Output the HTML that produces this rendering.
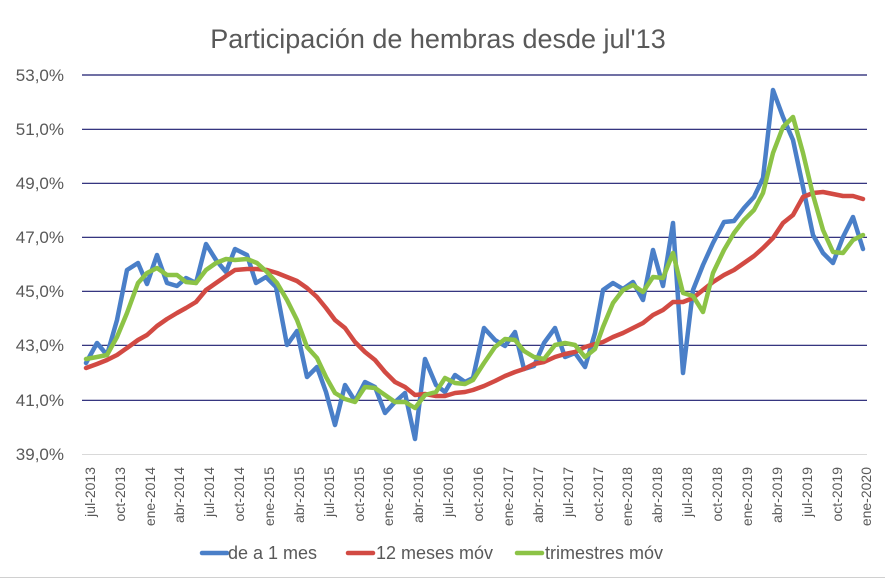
<!DOCTYPE html>
<html><head><meta charset="utf-8"><style>
body{margin:0;background:#fff;}
svg{display:block;font-family:"Liberation Sans",sans-serif;}
</style></head><body>
<svg width="885" height="584" viewBox="0 0 885 584">
<rect width="885" height="584" fill="#fff"/>
<line x1="0" y1="577.5" x2="885" y2="577.5" stroke="#d0d0d0" stroke-width="1"/>
<text x="438" y="48" text-anchor="middle" font-size="27" fill="#595959">Participación de hembras desde jul'13</text>
<g stroke="#1a1a6e" stroke-width="1.2">
<line x1="82" y1="75" x2="867" y2="75"/>
<line x1="82" y1="129.3" x2="867" y2="129.3"/>
<line x1="82" y1="183.3" x2="867" y2="183.3"/>
<line x1="82" y1="237.3" x2="867" y2="237.3"/>
<line x1="82" y1="291.3" x2="867" y2="291.3"/>
<line x1="82" y1="345.3" x2="867" y2="345.3"/>
<line x1="82" y1="400.3" x2="867" y2="400.3"/>
</g>
<line x1="82" y1="454.5" x2="867" y2="454.5" stroke="#d9d9d9" stroke-width="1"/>
<g font-size="17" fill="#595959" text-anchor="end">
<text x="64" y="81">53,0%</text>
<text x="64" y="135">51,0%</text>
<text x="64" y="189">49,0%</text>
<text x="64" y="243">47,0%</text>
<text x="64" y="297">45,0%</text>
<text x="64" y="351">43,0%</text>
<text x="64" y="406">41,0%</text>
<text x="64" y="460">39,0%</text>
</g>
<g font-size="14" fill="#595959" text-anchor="end">
<text transform="translate(95,467) rotate(-90)">jul-2013</text>
<text transform="translate(125,467) rotate(-90)">oct-2013</text>
<text transform="translate(155,467) rotate(-90)">ene-2014</text>
<text transform="translate(184,467) rotate(-90)">abr-2014</text>
<text transform="translate(214,467) rotate(-90)">jul-2014</text>
<text transform="translate(244,467) rotate(-90)">oct-2014</text>
<text transform="translate(274,467) rotate(-90)">ene-2015</text>
<text transform="translate(304,467) rotate(-90)">abr-2015</text>
<text transform="translate(334,467) rotate(-90)">jul-2015</text>
<text transform="translate(364,467) rotate(-90)">oct-2015</text>
<text transform="translate(393,467) rotate(-90)">ene-2016</text>
<text transform="translate(423,467) rotate(-90)">abr-2016</text>
<text transform="translate(453,467) rotate(-90)">jul-2016</text>
<text transform="translate(483,467) rotate(-90)">oct-2016</text>
<text transform="translate(513,467) rotate(-90)">ene-2017</text>
<text transform="translate(543,467) rotate(-90)">abr-2017</text>
<text transform="translate(573,467) rotate(-90)">jul-2017</text>
<text transform="translate(603,467) rotate(-90)">oct-2017</text>
<text transform="translate(632,467) rotate(-90)">ene-2018</text>
<text transform="translate(662,467) rotate(-90)">abr-2018</text>
<text transform="translate(692,467) rotate(-90)">jul-2018</text>
<text transform="translate(722,467) rotate(-90)">oct-2018</text>
<text transform="translate(752,467) rotate(-90)">ene-2019</text>
<text transform="translate(782,467) rotate(-90)">abr-2019</text>
<text transform="translate(812,467) rotate(-90)">jul-2019</text>
<text transform="translate(842,467) rotate(-90)">oct-2019</text>
<text transform="translate(871,467) rotate(-90)">ene-2020</text>
</g>
<g fill="none" stroke-width="4.5" stroke-linejoin="round" stroke-linecap="round">
<polyline stroke="#4a7fc8" points="86,363 97,343 107,355 117,320 127,270 138,263 147,284 157,255 167,283 177,286 186,278 196,283 206,244 216,260 226,272 235,249 247,255 256,283 266,277 276,287 287,345 297,331 307,377 317,367 326,392 335,425 345,385 355,401 365,382 375,387 385,413 395,402 405,393 415,439 425,359 436,385 445,392 455,375 465,382 473,378 484,328 495,340 505,346 515,332 524,369 534,366 544,343 555,328 565,357 575,353 585,367 595,333 603,290 613,283 623,289 633,282 643,300 653,250 663,286 673,223 683,373 693,290 703,265 713,243 724,222 734,221 744,208 754,197 763,178 773,90 783,117 793,140 803,187 813,235 823,253 833,263 843,237 853,217 863,249"/>
<polyline stroke="#d24a43" points="86,368 97,364 107,360 117,355 127,348 138,340 147,335 157,326 167,319 177,313 186,308 196,302 206,290 216,283 226,276 235,270 247,269 257,269 267,270 277,273 287,277 297,281 307,288 317,297 326,308 335,320 345,328 355,342 365,352 375,360 385,372 395,382 405,387 415,395 425,394 436,396 445,396 455,393 465,392 473,390 484,386 495,381 505,376 515,372 524,369 534,364 544,362 555,357 565,354 575,352 585,347 595,344 603,342 613,337 623,333 633,328 643,323 653,315 663,310 673,302 683,302 693,298 703,290 713,282 724,275 734,270 744,263 754,256 763,248 773,238 783,223 793,215 803,197 813,193 823,192 833,194 843,196 853,196 863,199"/>
<polyline stroke="#8cc346" points="86,359 97,357 107,355 117,337 127,313 138,283 147,273 157,268 167,275 177,275 186,282 196,283 206,270 216,263 226,259 235,260 247,259 257,263 267,272 277,283 287,300 297,320 307,347 317,358 326,377 335,393 345,399 355,402 365,387 375,388 385,395 395,402 405,402 415,408 425,395 436,392 445,378 455,383 465,384 473,380 484,363 495,347 505,339 515,340 524,351 534,357 544,359 555,345 565,343 575,345 585,357 595,349 603,327 613,303 623,290 633,285 643,292 653,277 663,278 673,253 683,293 693,296 703,312 713,273 724,250 734,233 744,220 754,210 763,193 773,153 783,127 793,117 803,153 813,195 823,230 833,252 843,253 853,240 863,235"/>
</g>
<g stroke-width="4.5" stroke-linecap="round">
<line x1="202" y1="553" x2="227" y2="553" stroke="#4a7fc8"/>
<line x1="348" y1="553" x2="373" y2="553" stroke="#d24a43"/>
<line x1="517" y1="553" x2="542" y2="553" stroke="#8cc346"/>
</g>
<g font-size="18" fill="#595959">
<text x="228" y="559">de a 1 mes</text>
<text x="376" y="559">12 meses móv</text>
<text x="545" y="559">trimestres móv</text>
</g>
</svg>
</body></html>
